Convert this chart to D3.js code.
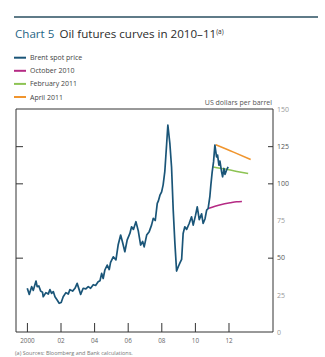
<!DOCTYPE html>
<html><head><meta charset="utf-8">
<script src="https://cdn.jsdelivr.net/npm/d3@7"></script>
<style>
html,body{margin:0;padding:0;background:#fff;}
svg{display:block;font-family:"Open Sans",sans-serif;}
</style></head>
<body><svg id="c" width="325" height="357"></svg>
<script>
// ---- data ----
const spotYear = [2000.02,2000.14,2000.28,2000.38,2000.54,2000.61,2000.71,2000.82,2000.93,2000.97,
  2001.13,2001.27,2001.37,2001.47,2001.57,2001.67,2001.80,2001.92,2002.04,2002.16,2002.32,2002.46,2002.56,2002.72,2002.86,2002.99,
  2003.11,2003.20,2003.35,2003.51,2003.65,2003.79,2003.95,2004.09,2004.24,2004.35,2004.45,2004.54,2004.64,2004.78,2004.90,2004.98,
  2005.14,2005.30,2005.43,2005.58,2005.70,2005.83,2005.97,2006.13,2006.23,2006.34,2006.49,2006.63,2006.77,2006.89,2006.98,
  2007.13,2007.28,2007.42,2007.52,2007.64,2007.76,2007.82,2007.92,2008.02,2008.11,2008.21,2008.32,2008.39,2008.51,2008.61,2008.71,2008.81,2008.91,
  2009.01,2009.11,2009.21,2009.30,2009.40,2009.51,2009.66,2009.80,2009.90,2010.04,2010.14,2010.26,2010.40,2010.49,2010.60,2010.70,2010.79,2010.89,2010.95,
  2011.03,2011.11,2011.19,2011.29,2011.35,2011.43,2011.49,2011.59,2011.65,2011.73,2011.79,2011.89,2011.98];
const spotPrice = [29.4,25.3,30.5,28,34.3,30.5,31,27.5,26.7,23.7,
  26.5,25.5,28.5,26,27.2,23.7,21.5,19.3,19.8,23.7,26.5,25.5,28.5,27.5,29.4,32.7,
  28.5,25.3,29.4,29,30.5,29.4,31.8,31.3,33.8,34.5,39.4,36,41.7,45,42,46.8,
  50.6,48.5,58.5,65.2,60,54,62,66.3,70.8,69,74.2,68,58.5,60.9,57.3,
  65.2,67.5,71.9,76.4,75,86.5,88,92,94.3,99,108,126.8,139.1,126.8,111,82,59.6,41,
  43.9,46.5,48.8,66.3,70.8,69,73,77.5,71.9,78.6,84.2,75.6,79.5,73,76,82,83.1,91,98.8,
  107.7,114.4,125.7,117.8,119,112.2,115,107.7,104.4,110,106,109,111];
const oct2010Year = [2010.79,2011.2,2011.59,2012.1,2012.48,2012.80];
const oct2010Price = [83.1,84.6,85.8,86.9,87.6,87.8];
const feb2011Year = [2011.09,2011.8,2012.5,2013.17];
const feb2011Price = [111,109.6,108,106.6];
const apr2011Year = [2011.23,2012.3,2013.32];
const apr2011Price = [126,121,116];
const seriesNames = ["Brent spot price","October 2010","February 2011","April 2011"];
const seriesColors = ["#1a5578","#b52a84","#8dc353","#f0952e"];
const xTickValues = [2000,2002,2004,2006,2008,2010,2012];
const xTickLabels = ["2000","02","04","06","08","10","12"];
const yTickValues = [0,25,50,75,100,125,150];
const yTickMarks = [50,100,125];

const svg = d3.select("#c");
const L=16, R=273, T=109, B=332;
const x = d3.scaleLinear().domain([1999.35,2014.65]).range([L,R]);
const y = d3.scaleLinear().domain([0,150]).range([B,T]);

// header rule and title
svg.append("line").attr("x1",14).attr("x2",318).attr("y1",17).attr("y2",17)
  .attr("stroke","#2a4f60").attr("stroke-width",1.5);
const title = svg.append("text").attr("x",15).attr("y",38).attr("font-size",11.6);
title.append("tspan").attr("fill","#1f6585").text("Chart 5");
title.append("tspan").attr("fill","#2b2b2b").attr("dx",5).text("Oil futures curves in 2010–11");
title.append("tspan").attr("fill","#2b2b2b").attr("font-size",6.5).attr("dy",-4).text("(a)");

// legend
seriesNames.forEach((n,i)=>{
  const yy = 57.7 + i*13.1;
  svg.append("line").attr("x1",14).attr("x2",26).attr("y1",yy).attr("y2",yy)
    .attr("stroke",seriesColors[i]).attr("stroke-width",2);
  svg.append("text").attr("x",30).attr("y",yy+2.5).attr("font-size",7).attr("fill","#444").text(n);
});

// units
svg.append("text").attr("x",272).attr("y",105).attr("text-anchor","end")
  .attr("font-size",7).attr("fill","#555").text("US dollars per barrel");

// frame
const frame = [[L,T,R,T],[L,T,L,B],[R,T,R,B],[L,B,R,B]];
frame.forEach(f=>svg.append("line").attr("x1",f[0]).attr("y1",f[1]).attr("x2",f[2]).attr("y2",f[3])
  .attr("stroke","#333").attr("stroke-width",1));

// bottom axis
const xa = svg.append("g").attr("transform",`translate(0,${B})`)
  .call(d3.axisBottom(x).tickValues(xTickValues).tickFormat((d,i)=>xTickLabels[i])
    .tickSizeInner(-9).tickSizeOuter(0).tickPadding(7));
xa.select(".domain").remove();
xa.selectAll("line").attr("stroke","#333");
xa.selectAll("text").attr("font-size",6.3).attr("fill","#666").attr("font-family","Open Sans");

// right axis
const ya = svg.append("g").attr("transform",`translate(${R},0)`)
  .call(d3.axisRight(y).tickValues(yTickValues).tickSizeInner(-5).tickSizeOuter(0).tickPadding(4));
ya.select(".domain").remove();
ya.selectAll(".tick line").attr("stroke","#333").attr("stroke-opacity",d=>yTickMarks.includes(d)?1:0);
ya.selectAll("text").attr("font-size",7).attr("fill",d=>yTickMarks.includes(d)?"#555":"#999").attr("font-family","Open Sans");

// left axis ticks
const la = svg.append("g").attr("transform",`translate(${L},0)`)
  .call(d3.axisRight(y).tickValues(yTickMarks).tickSize(7).tickFormat(""));
la.select(".domain").remove();
la.selectAll("line").attr("stroke","#333");

// lines
const line = d3.line().x(d=>x(d[0])).y(d=>y(d[1])).curve(d3.curveLinear);
const smooth = d3.line().x(d=>x(d[0])).y(d=>y(d[1])).curve(d3.curveMonotoneX);
const zip=(a,b)=>a.map((v,i)=>[v,b[i]]);
svg.append("path").datum(zip(oct2010Year,oct2010Price)).attr("d",smooth).attr("fill","none")
  .attr("stroke",seriesColors[1]).attr("stroke-width",1.6);
svg.append("path").datum(zip(feb2011Year,feb2011Price)).attr("d",smooth).attr("fill","none")
  .attr("stroke",seriesColors[2]).attr("stroke-width",1.6);
svg.append("path").datum(zip(apr2011Year,apr2011Price)).attr("d",smooth).attr("fill","none")
  .attr("stroke",seriesColors[3]).attr("stroke-width",1.6);
svg.append("path").datum(zip(spotYear,spotPrice)).attr("d",line).attr("fill","none")
  .attr("stroke",seriesColors[0]).attr("stroke-width",1.7).attr("stroke-linejoin","round");

// footnote
svg.append("text").attr("x",15).attr("y",355).attr("font-size",5.5).attr("fill","#777")
  .text("(a) Sources: Bloomberg and Bank calculations.");
</script></body></html>
